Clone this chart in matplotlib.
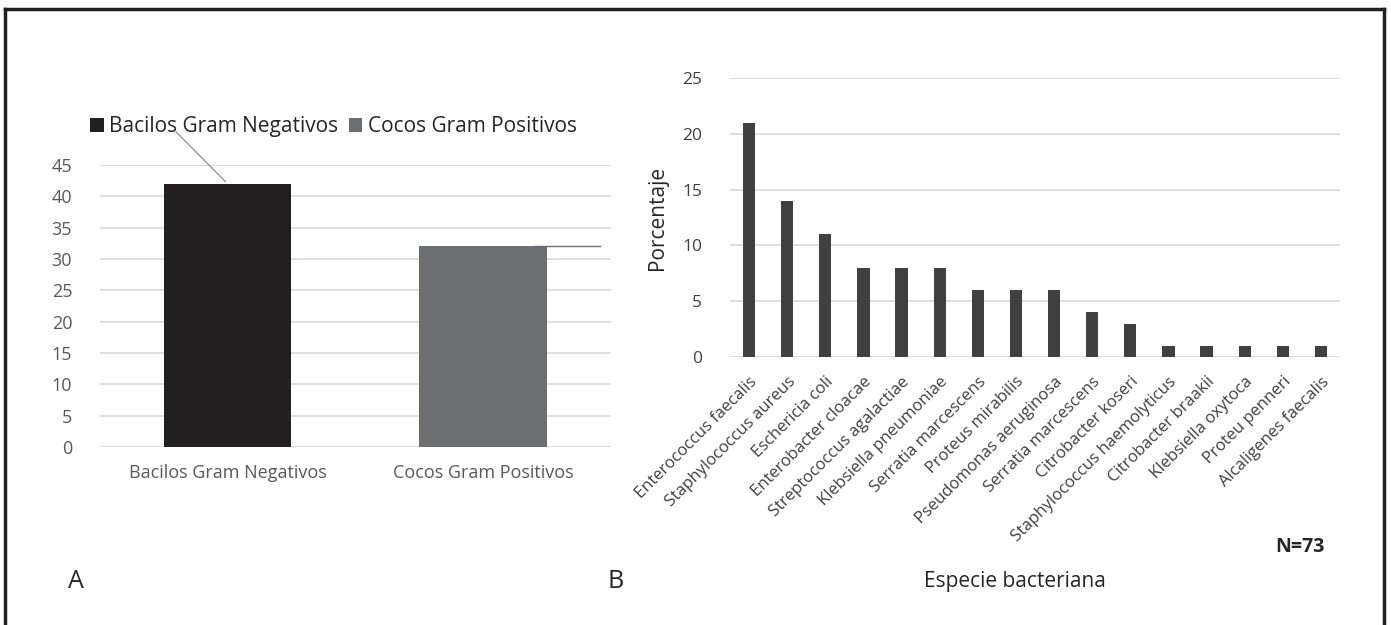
#!/usr/bin/env python3
"""
Gram groups (A) and bacterial species (B) bar charts.
"""
import matplotlib
matplotlib.use('Agg')
import matplotlib.pyplot as plt
from matplotlib.patches import Patch
from matplotlib.lines import Line2D

plt.rcParams['font.family'] = ['Open Sans', 'DejaVu Sans']

# panel A
gram_groups = ['Bacilos Gram Negativos', 'Cocos Gram Positivos']
gram_values = [42, 32]
gram_colors = ['#231f20', '#6d6e71']

# panel B
species = ['Enterococcus faecalis', 'Staphylococcus aureus', 'Eschericia coli',
           'Enterobacter cloacae', 'Streptococcus agalactiae',
           'Klebsiella pneumoniae', 'Serratia marcescens', 'Proteus mirabilis',
           'Pseudomonas aeruginosa', 'Serratia marcescens', 'Citrobacter koseri',
           'Staphylococcus haemolyticus', 'Citrobacter braakii',
           'Klebsiella oxytoca', 'Proteu penneri', 'Alcaligenes faecalis']
species_pct = [21, 14, 11, 8, 8, 8, 6, 6, 6, 4, 3, 1, 1, 1, 1, 1]

grid_color = '#d9d9d9'
tick_color = '#595959'

fig = plt.figure(figsize=(13.91, 6.25), dpi=100)

# --- A ---
ax = fig.add_axes([0.0719, 0.2848, 0.367, 0.4512])
ax.bar(range(len(gram_groups)), gram_values, width=0.5, color=gram_colors, zorder=3)
ax.set_xlim(-0.5, 1.5)
ax.set_ylim(0, 45)
ax.set_yticks(range(0, 46, 5))
ax.set_xticks(range(len(gram_groups)))
ax.set_xticklabels(gram_groups)
ax.yaxis.grid(True, color=grid_color, linewidth=1.2, zorder=0)
for s in ax.spines.values():
    s.set_visible(False)
ax.tick_params(length=0, labelsize=13, colors=tick_color)
ax.tick_params(axis='y', pad=20)
ax.tick_params(axis='x', pad=12)
# leader lines of the data labels
ax.annotate('', xy=(0, gram_values[0]), xytext=(-0.21, 50.6),
            arrowprops=dict(arrowstyle='-', color='#8c8c8c', lw=0.9),
            annotation_clip=False)
ax.add_line(Line2D([1.2, 1.46], [gram_values[1] + 0.1] * 2, color='#6d6e71', lw=1.0, zorder=4))
handles = [Patch(facecolor=c, label=g) for g, c in zip(gram_groups, gram_colors)]
leg = ax.legend(handles=handles, loc='center left', bbox_to_anchor=(-0.035, 1.135), ncol=2,
                frameon=False, fontsize=15, handlelength=0.65, handleheight=0.65,
                handletextpad=0.25, columnspacing=0.5, borderaxespad=0,
                labelcolor='#262626')
leg.set_zorder(1)

# --- B ---
bx = fig.add_axes([0.5248, 0.4288, 0.4385, 0.4464])
bx.bar(range(len(species)), species_pct, width=0.32, color='#404041', zorder=3)
bx.set_xlim(-0.5, len(species) - 0.5)
bx.set_ylim(0, 25)
bx.set_yticks(range(0, 26, 5))
bx.set_xticks(range(len(species)))
bx.set_xticklabels(species, rotation=45, ha='right', rotation_mode='anchor',
                   fontsize=12, color='#262626')
bx.yaxis.grid(True, color=grid_color, linewidth=1.2, zorder=0)
for s in bx.spines.values():
    s.set_visible(False)
bx.tick_params(length=0, colors='#404040')
bx.tick_params(axis='y', labelsize=12.5, pad=20)
bx.tick_params(axis='x', pad=12)
bx.set_ylabel('Porcentaje', fontsize=15, color='#262626', labelpad=10)

fig.text(0.7297, 0.069, 'Especie bacteriana', fontsize=15, color='#262626',
         ha='center', va='center')
fig.text(0.9526, 0.125, 'N=73', fontsize=14, fontweight='bold', color='#262626',
         ha='right', va='center')
fig.text(0.049, 0.06, 'A', fontsize=18, color='#262626')
fig.text(0.437, 0.06, 'B', fontsize=18, color='#262626')

# frame around the figure (no bottom edge)
frame_kw = dict(color='#231f20', lw=2.5, transform=fig.transFigure)
fig.add_artist(Line2D([0.0038, 0.0038], [0, 0.985], **frame_kw))
fig.add_artist(Line2D([0.0038, 0.9947], [0.985, 0.985], **frame_kw))
fig.add_artist(Line2D([0.9947, 0.9947], [0, 0.985], **frame_kw))

fig.savefig('out.png', dpi=100)
